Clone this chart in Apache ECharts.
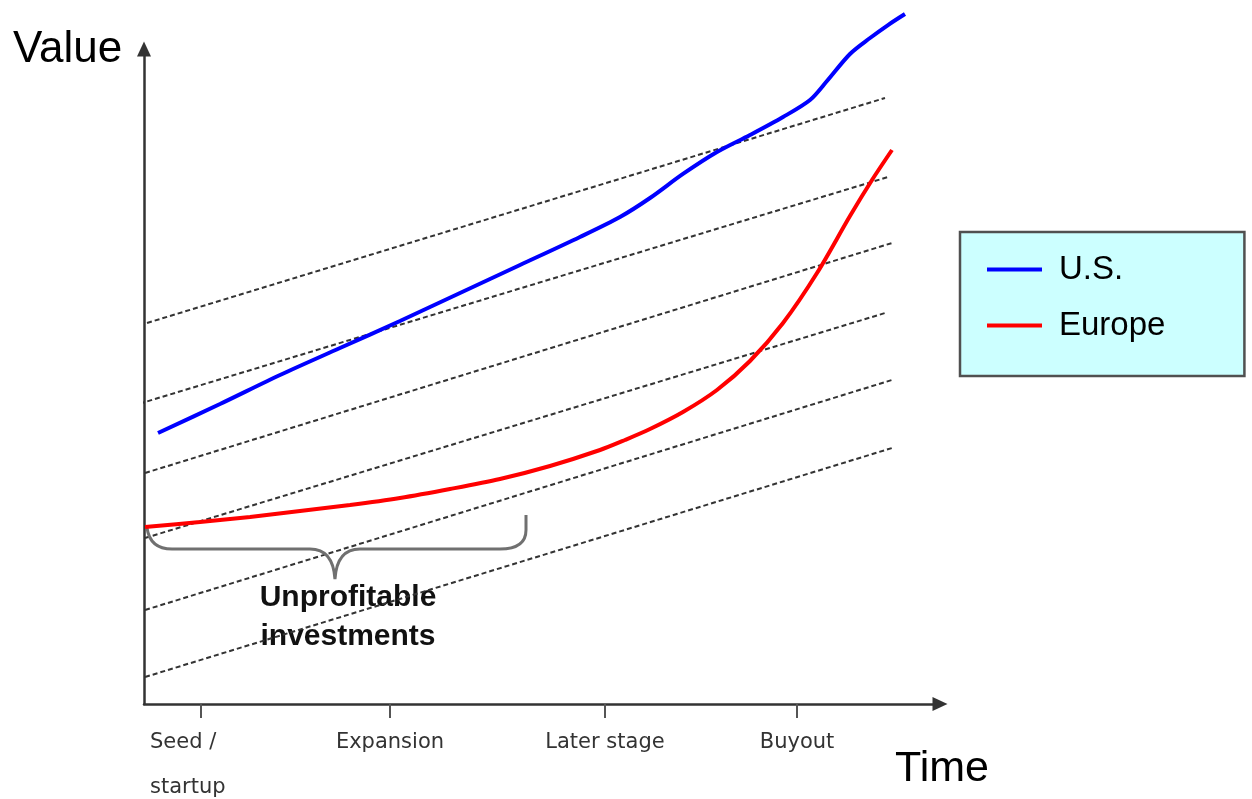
<!DOCTYPE html>
<html>
<head>
<meta charset="utf-8">
<script src="https://cdn.jsdelivr.net/npm/echarts@6/dist/echarts.min.js"></script>
<style>
html,body{margin:0;padding:0;background:#fff;}
#chart{width:1252px;height:799px;}
</style>
</head>
<body>
<div id="chart"></div>
<script>
// ---- data (abstract units: x 0..100 time, y 0..100 value) ----
var stageLabels = ['Seed /\nstartup', 'Expansion', 'Later stage', 'Buyout'];
var stagePositions = [7.16, 30.9, 57.91, 82.04];

var usSeries = [
  [1.76, 41.37], [9.55, 45.80], [17.09, 50.23], [24.62, 54.35], [32.16, 58.47],
  [39.70, 62.75], [47.24, 67.02], [54.77, 71.30], [59.80, 74.35], [63.57, 77.25],
  [67.71, 80.92], [71.98, 84.27], [76.13, 86.87], [80.28, 89.62], [83.67, 92.21],
  [85.80, 95.11], [88.69, 99.24], [91.21, 101.68], [93.47, 103.66], [95.60, 105.34]
];
var europeSeries = [
  [0.13, 27.02], [7.04, 27.79], [13.32, 28.55], [19.60, 29.47], [25.88, 30.38],
  [32.16, 31.45], [38.44, 32.82], [44.72, 34.35], [51.01, 36.34], [57.29, 38.78],
  [60.43, 40.31], [63.57, 41.98], [67.71, 44.58], [71.98, 47.94], [76.13, 52.37],
  [80.28, 58.17], [84.55, 65.80], [88.69, 74.50], [91.46, 80.00], [93.97, 84.58]
];
// parallel iso-value guide lines (start, end)
var guideLines = [
  [[0.38, 58.17], [93.09, 92.52]],
  [[-1.51, 45.50], [93.47, 80.46]],
  [[0.13, 35.27], [93.97, 70.38]],
  [[0.13, 25.34], [93.09, 59.69]],
  [[0.13, 14.35], [93.97, 49.47]],
  [[0.13, 4.12], [93.97, 39.08]]
];
// brace spanning the unprofitable region: left end, base level, tip, right end
var braceAnchors = [[0.38, 26.87, 23.66, 23.99, 19.08, 47.99, 28.85]];
var braceText = 'Unprofitable\ninvestments';

var chart = echarts.init(document.getElementById('chart'), null, {renderer: 'canvas'});

var series = [];
guideLines.forEach(function (ln, i) {
  series.push({
    name: 'guide' + i,
    type: 'line',
    data: ln,
    clip: false,
    silent: true,
    showSymbol: false,
    symbol: 'none',
    lineStyle: {color: '#333', width: 2, type: [5, 3]},
    z: 1
  });
});
series.push({
  name: 'U.S.',
  type: 'line',
  data: usSeries,
  smooth: 0.3,
  clip: false,
  silent: true,
  showSymbol: false,
  symbol: 'none',
  color: '#0000ff',
  lineStyle: {color: '#0000ff', width: 4},
  z: 3
});
series.push({
  name: 'Europe',
  type: 'line',
  data: europeSeries,
  smooth: 0.3,
  clip: false,
  silent: true,
  showSymbol: false,
  symbol: 'none',
  color: '#ff0000',
  lineStyle: {color: '#ff0000', width: 4},
  z: 3
});
series.push({
  name: 'brace',
  type: 'custom',
  silent: true,
  clip: false,
  data: braceAnchors,
  renderItem: function (params, api) {
    var L = api.coord([api.value(0), api.value(1)]);
    var B = api.coord([api.value(0), api.value(2)])[1];
    var T = api.coord([api.value(3), api.value(4)]);
    var R = api.coord([api.value(5), api.value(6)]);
    var d = 'M' + L[0] + ' ' + L[1] +
      ' Q' + (L[0] + 3) + ' ' + B + ' ' + (L[0] + 25) + ' ' + B +
      ' L' + (T[0] - 25) + ' ' + B +
      ' Q' + (T[0] - 2) + ' ' + B + ' ' + T[0] + ' ' + T[1] +
      ' Q' + (T[0] + 2) + ' ' + B + ' ' + (T[0] + 25) + ' ' + B +
      ' L' + (R[0] - 26) + ' ' + B +
      ' Q' + R[0] + ' ' + B + ' ' + R[0] + ' ' + (B - 19) +
      ' L' + R[0] + ' ' + R[1];
    return {
      type: 'path',
      shape: {pathData: d},
      style: {stroke: '#707070', lineWidth: 3, fill: null}
    };
  },
  z: 2
});

var axisLineStyle = {color: '#333', width: 2.5};

chart.setOption({
  animation: false,
  backgroundColor: '#ffffff',
  grid: {left: 144, right: 312, top: 49, bottom: 95, containLabel: false},
  xAxis: {
    type: 'value',
    min: 0,
    max: 100,
    splitLine: {show: false},
    axisLine: {show: true, onZero: false, symbol: ['none', 'triangle'], symbolSize: [14, 15], lineStyle: axisLineStyle},
    axisTick: {show: true, customValues: stagePositions, length: 14, lineStyle: {color: '#555', width: 2}},
    axisLabel: {
      show: true,
      customValues: stagePositions,
      margin: 16,
      formatter: function (v) {
        var best = 0, bd = 1e9;
        for (var i = 0; i < stagePositions.length; i++) {
          var dd = Math.abs(stagePositions[i] - v);
          if (dd < bd) { bd = dd; best = i; }
        }
        var parts = stageLabels[best].split('\n');
        if (best === 0) {
          return parts.map(function (p) { return '{s|' + p + '}'; }).join('\n');
        }
        return '{c|' + parts.join('\n') + '}';
      },
      rich: {
        s: {width: 102, align: 'left', fontSize: 21, fontFamily: 'DejaVu Sans', color: '#333', lineHeight: 45},
        c: {fontSize: 21, fontFamily: 'DejaVu Sans', color: '#333', lineHeight: 45}
      }
    }
  },
  yAxis: {
    type: 'value',
    min: 0,
    max: 100,
    splitLine: {show: false},
    axisLine: {show: true, onZero: false, symbol: ['none', 'triangle'], symbolSize: [14, 15], lineStyle: axisLineStyle},
    axisTick: {show: false},
    axisLabel: {show: false}
  },
  legend: {
    data: ['U.S.', 'Europe'],
    orient: 'vertical',
    left: 960,
    top: 232,
    icon: 'rect',
    itemWidth: 55,
    itemHeight: 4,
    itemGap: 23,
    backgroundColor: '#ccffff',
    borderColor: '#505050',
    borderWidth: 2.5,
    padding: [21, 79, 34, 27],
    selectedMode: false,
    textStyle: {fontSize: 33, lineHeight: 33, fontFamily: 'Liberation Sans', color: '#000', padding: [0, 0, 0, 12]}
  },
  graphic: [
    {type: 'text', x: 13, y: 50, silent: true,
      style: {text: 'Value', font: '44px "Liberation Sans"', fill: '#000', align: 'left', verticalAlign: 'middle'}},
    {type: 'text', x: 895, y: 769, silent: true,
      style: {text: 'Time', font: '43px "Liberation Sans"', fill: '#000', align: 'left', verticalAlign: 'middle'}},
    {type: 'text', x: 348, y: 578, silent: true,
      style: {text: braceText, font: 'bold 30px "Liberation Sans"', fill: '#111', align: 'center', verticalAlign: 'top', lineHeight: 39}}
  ],
  series: series
});
</script>
</body>
</html>
